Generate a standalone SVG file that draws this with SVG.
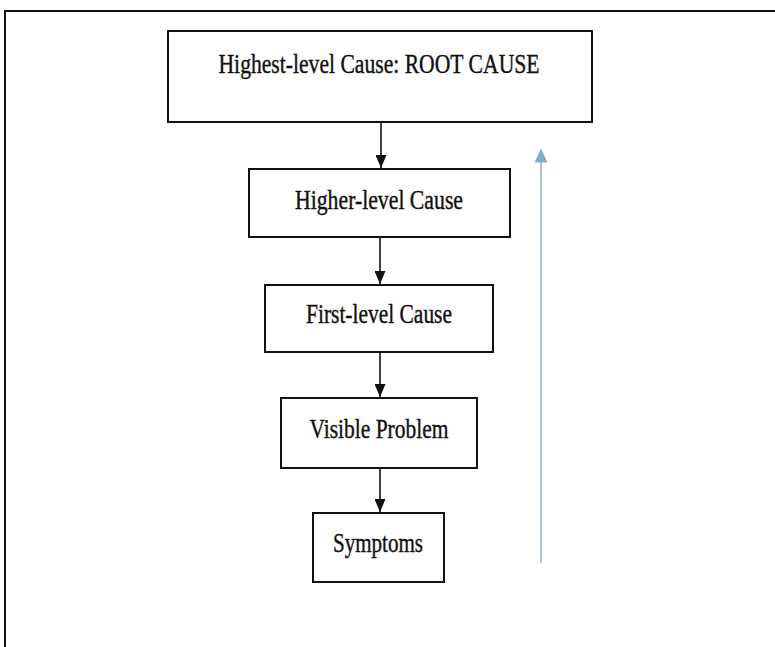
<svg xmlns="http://www.w3.org/2000/svg" width="775" height="647" viewBox="0 0 775 647">
<style>
.box{fill:#fff;stroke:#111;stroke-width:2}
.lbl{font-family:"Liberation Serif","Times New Roman",serif;font-size:27px;fill:#111;stroke:#111;stroke-width:0.4;text-anchor:middle}
.conn{stroke:#111;stroke-width:1.6;fill:none}
</style>
<defs>
<marker id="ah" markerWidth="13" markerHeight="11" refX="10" refY="5" orient="auto" markerUnits="userSpaceOnUse" viewBox="0 0 10 10" preserveAspectRatio="none">
<path d="M0,0 L10,5 L0,10 Z" fill="#111"/>
</marker>
<marker id="bh" markerWidth="14" markerHeight="13" refX="9" refY="5" orient="auto" markerUnits="userSpaceOnUse" viewBox="0 0 10 10" preserveAspectRatio="none">
<path d="M0,0 L10,5 L0,10 Z" fill="#7eaed0"/>
</marker>
</defs>
<rect width="775" height="647" fill="#fff"/>
<path d="M775,11 L5,11 L5,647" fill="none" stroke="#111" stroke-width="2"/>
<g id="n1"><rect class="box" x="168" y="31" width="424" height="91"/><text class="lbl" x="379" y="73" textLength="321" lengthAdjust="spacingAndGlyphs">Highest-level Cause: ROOT CAUSE</text></g>
<g id="n2"><rect class="box" x="249" y="169" width="261" height="68"/><text class="lbl" x="379" y="209" textLength="168" lengthAdjust="spacingAndGlyphs">Higher-level Cause</text></g>
<g id="n3"><rect class="box" x="265" y="285" width="228" height="67"/><text class="lbl" x="379" y="323" textLength="146" lengthAdjust="spacingAndGlyphs">First-level Cause</text></g>
<g id="n4"><rect class="box" x="281" y="398" width="196" height="70"/><text class="lbl" x="379" y="438" textLength="139" lengthAdjust="spacingAndGlyphs">Visible Problem</text></g>
<g id="n5"><rect class="box" x="313" y="513" width="131" height="69"/><text class="lbl" x="378" y="552" textLength="90" lengthAdjust="spacingAndGlyphs">Symptoms</text></g>
<g id="connectors">
<line class="conn" x1="381" y1="123" x2="381" y2="168" marker-end="url(#ah)"/>
<line class="conn" x1="380" y1="238" x2="380" y2="284" marker-end="url(#ah)"/>
<line class="conn" x1="380" y1="353" x2="380" y2="397" marker-end="url(#ah)"/>
<line class="conn" x1="380" y1="469" x2="380" y2="512" marker-end="url(#ah)"/>
<line x1="541" y1="563" x2="541" y2="150" stroke="#8fb8d6" stroke-width="1.6" marker-end="url(#bh)"/>
</g>
</svg>
